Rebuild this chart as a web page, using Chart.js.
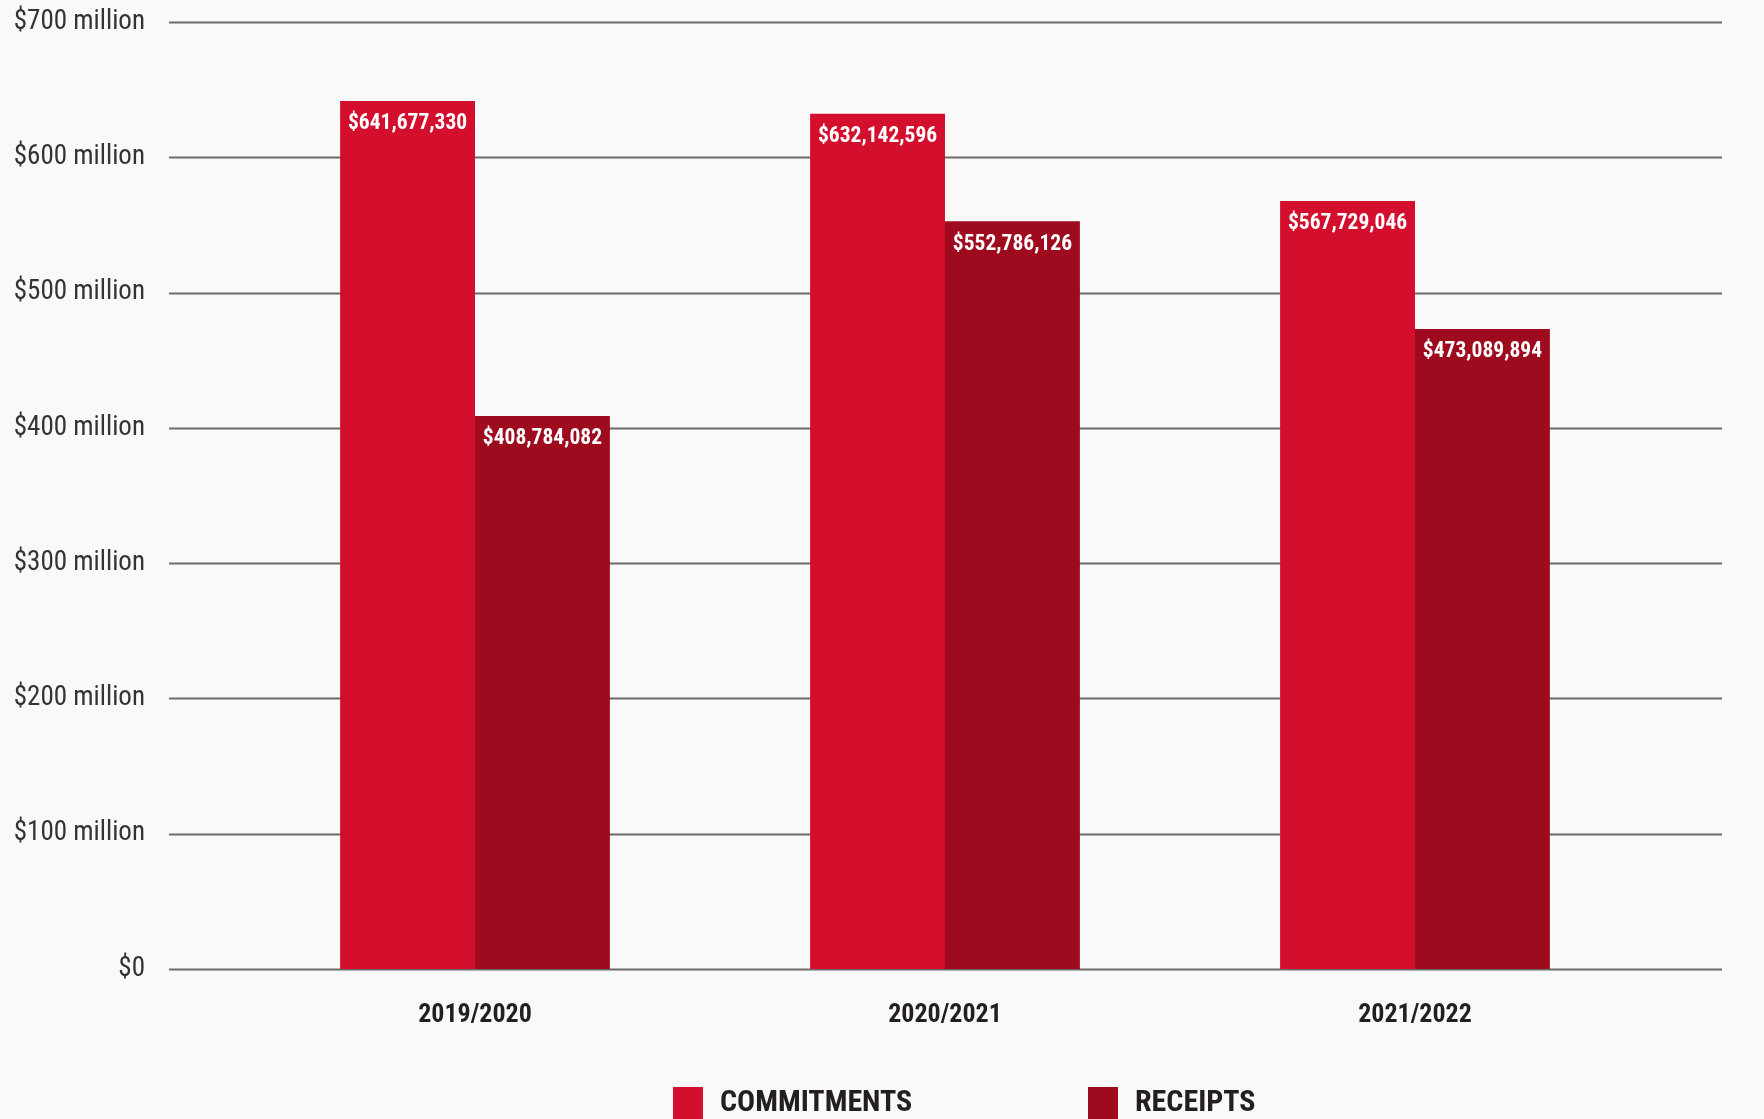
<!DOCTYPE html>
<html>
<head>
<meta charset="utf-8">
<script src="https://cdn.jsdelivr.net/npm/chart.js@4.4.1/dist/chart.umd.min.js"></script>
<style>
  html, body { margin: 0; padding: 0; background: #f9f9f9; }
  #chart { display: block; }
</style>
</head>
<body>
<canvas id="chart" width="1764" height="1119" style="width:1764px;height:1119px"></canvas>
<script>
// years and amounts (USD)
const years = ["2019/2020", "2020/2021", "2021/2022"];
const commitments = [641677330, 632142596, 567729046];
const receipts = [408784082, 552786126, 473089894];
const seriesNames = ["COMMITMENTS", "RECEIPTS"];
const yTicks = [0, 100e6, 200e6, 300e6, 400e6, 500e6, 600e6, 700e6];

const FONT = "'Liberation Sans Narrow', 'Roboto Condensed', 'DejaVu Sans Condensed', Roboto, sans-serif";
const colors = ["#d40e2d", "#9e0a1e"];

// horizontal rules, wider than the plot area
const gridPlugin = {
    id: "wideGrid",
    beforeDatasetsDraw(chart) {
        const ctx = chart.ctx;
        const y = chart.scales.y;
        ctx.save();
        ctx.strokeStyle = "#6b6b6b";
        ctx.lineWidth = 2;
        yTicks.forEach(v => {
            const py = Math.round(y.getPixelForValue(v)) + 0.5;
            ctx.beginPath();
            ctx.moveTo(169, py);
            ctx.lineTo(1722, py);
            ctx.stroke();
        });
        ctx.restore();
    }
};

// white value labels at the top of each bar
const valuePlugin = {
    id: "barValues",
    afterDatasetsDraw(chart) {
        const ctx = chart.ctx;
        ctx.save();
        ctx.fillStyle = "#ffffff";
        ctx.font = "bold 21.5px " + FONT;
        ctx.textAlign = "center";
        ctx.textBaseline = "middle";
        chart.data.datasets.forEach((ds, i) => {
            chart.getDatasetMeta(i).data.forEach((bar, j) => {
                ctx.fillText("$" + ds.data[j].toLocaleString("en-US"), bar.x, bar.y + 23);
            });
        });
        ctx.restore();
    }
};

// legend at the bottom
const legendPlugin = {
    id: "bottomLegend",
    afterDraw(chart) {
        const ctx = chart.ctx;
        const spots = [673, 1088];
        ctx.save();
        ctx.font = "bold 30px " + FONT;
        ctx.textBaseline = "middle";
        chart.data.datasets.forEach((ds, i) => {
            ctx.fillStyle = ds.backgroundColor;
            ctx.fillRect(spots[i], 1087, 30, 32);
            ctx.fillStyle = "#231f20";
            ctx.fillText(ds.label, spots[i] + 47, 1103);
        });
        ctx.restore();
    }
};

new Chart(document.getElementById("chart"), {
    type: "bar",
    data: {
        labels: years,
        datasets: [
            { label: seriesNames[0], data: commitments, backgroundColor: colors[0] },
            { label: seriesNames[1], data: receipts, backgroundColor: colors[1] }
        ]
    },
    options: {
        responsive: false,
        animation: false,
        layout: { padding: { top: 22, right: 114, bottom: 0, left: 0 } },
        datasets: { bar: { barPercentage: 1, categoryPercentage: 0.574 } },
        plugins: {
            legend: { display: false },
            tooltip: { enabled: false }
        },
        scales: {
            x: {
                grid: { display: false },
                border: { display: false },
                ticks: {
                    color: "#231f20",
                    font: { family: FONT, size: 26, weight: "bold" },
                    padding: 23
                },
                afterFit(s) { s.height = 150; }
            },
            y: {
                min: 0,
                max: 700e6,
                grid: { display: false },
                border: { display: false },
                afterBuildTicks(s) { s.ticks = yTicks.map(v => ({ value: v })); },
                ticks: {
                    color: "#333333",
                    padding: 87,
                    font: { family: FONT, size: 27 },
                    callback: v => v === 0 ? "$0" : "$" + (v / 1e6) + " million"
                },
                afterFit(s) {
                    s.width = 240;
                    s.paddingTop = 0;
                    s.paddingBottom = 0;
                }
            }
        }
    },
    plugins: [gridPlugin, valuePlugin, legendPlugin]
});
</script>
</body>
</html>
